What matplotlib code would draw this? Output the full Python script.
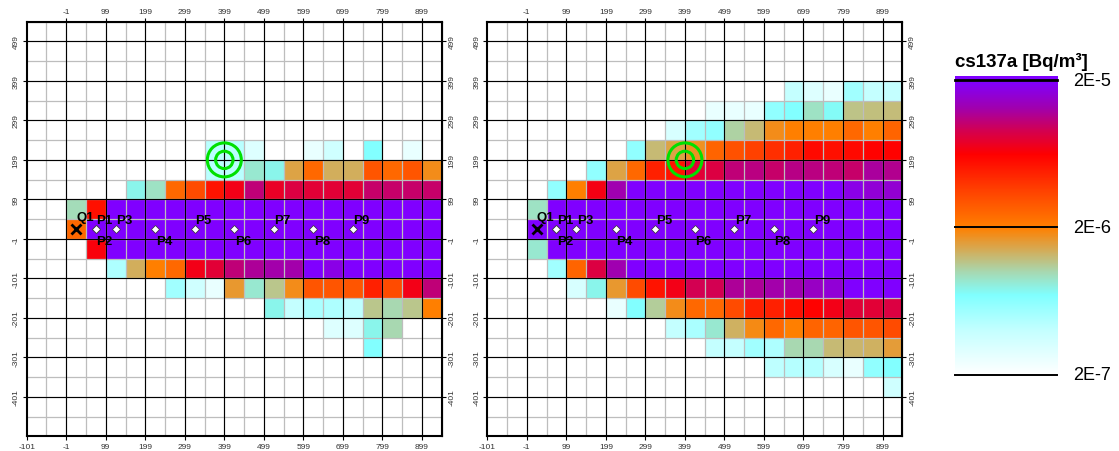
import matplotlib.pyplot as plt
import numpy as np
from matplotlib.colors import LinearSegmentedColormap, LogNorm
from matplotlib.patches import Circle

plt.rcParams['font.family'] = ['Liberation Sans', 'DejaVu Sans']
plt.rcParams['axes.unicode_minus'] = False

# concentrations in units of 1E-7 Bq/m3, 50 m cells, columns start at x=-101
P = 250  # above the top class
x_edge0, y_edge0, cell, ncell = -101, -501, 50, 21
row_bottoms = [349, 299, 249, 199, 149, 99, 49, -1, -51, -101, -151, -201, -251, -301, -351, -401]

conc_left = [
    [0] * 21,
    [0] * 21,
    [0] * 21,
    [0, 0, 0, 0, 0, 0, 0, 0, 0, 4.4, 4.4, 3.0, 0, 0, 2.6, 3.5, 0, 6.9, 0, 2.6, 0],
    [0, 0, 0, 0, 0, 0, 0, 0, 0, 4.4, 4.4, 8.7, 7.6, 15, 25, 13.8, 13.8, 30, 25, 30, 18],
    [0, 0, 0, 0, 0, 7.6, 9.1, 25, 33, 53, 70, 105, 75, 85, 80, 80, 80, 100, 100, 100, 100],
    [0, 0, 9.7, 55] + [P] * 17,
    [0, 0, 25] + [P] * 18,
    [0, 0, 0, 66] + [P] * 17,
    [0, 0, 0, 0, 4.8, 13.8, 20, 25, 70, 80, 105, 120, 128, 128, P, 175, P, P, P, P, P],
    [0, 0, 0, 0, 0, 0, 0, 5.3, 3.5, 2.6, 16.6, 8.7, 11.5, 18, 30, 30, 30, 48, 33, 70, 105],
    [0] * 12 + [7.6, 4.0, 5.0, 4.8, 4.2, 11.5, 10, 11.5, 20],
    [0] * 15 + [3.0, 3.0, 7.6, 10, 0, 0],
    [0] * 17 + [6.9, 0, 0, 0],
    [0] * 21,
    [0] * 21,
]

conc_right = [
    [0] * 15 + [4.0, 3.0, 2.6, 5.3, 4.0, 4.0],
    [0] * 11 + [2.6, 2.6, 2.6, 6.0, 6.9, 9.1, 7.2, 11.8, 12.2, 12.5],
    [0] * 9 + [3.2, 5.3, 6.0, 10.5, 12.6, 18, 20, 20, 20, 25, 20, 26],
    [0] * 7 + [6.0, 12.6, 15.2, 17.5, 26, 31, 36, 42, 48, 58, 55, 58, 63, 63],
    [0] * 5 + [6.0, 15.2, 25, 48, 53, 80, 85, 105, 110, 100, 112, 110, 105, 100, 122, 115],
    [0, 0, 0, 6.0, 20, 68, 130] + [P] * 11 + [175, 160, 158],
    [0, 0, 9.1] + [P] * 18,
    [0, 0] + [P] * 19,
    [0, 0, 8.7] + [P] * 18,
    [0, 0, 0, 5.3, 26, 85, 130] + [P] * 14,
    [0, 0, 0, 0, 3.2, 7.6, 16.6, 33, 53, 70, 92, 92, 120, 120, 128, 132, 145, 160, P, P, P],
    [0] * 6 + [2.6, 6.9, 11, 18, 25, 25, 33, 48, 48, 55, 63, 70, 80, 80, 85],
    [0] * 9 + [4.0, 5.0, 8.7, 13.5, 18.5, 25, 20, 26, 26, 30, 30, 33],
    [0] * 11 + [4.0, 4.0, 5.3, 4.8, 10, 10, 12.6, 13, 13.5, 16],
    [0] * 14 + [4.2, 4.5, 4.5, 3.2, 2.6, 6.0, 6.9],
    [0] * 20 + [3.5],
]

source_name = 'Q1'
source_xy = (24, 24)
monitor_names = ['P1', 'P2', 'P3', 'P4', 'P5', 'P6', 'P7', 'P8', 'P9']
monitor_x = [74, 74, 124, 224, 324, 424, 524, 624, 724]
monitor_y = [24, 24, 24, 24, 24, 24, 24, 24, 24]
target_xy = (399, 199)

major_ticks = list(range(-101, 900, 100))
y_major = list(range(-401, 500, 100))
cbar_levels = [2e-5, 2e-6, 2e-7]
cbar_labels = ['2E-5', '2E-6', '2E-7']

cmap = LinearSegmentedColormap.from_list('cs137', [
    (0.0, '#ffffff'), (0.15, '#c4ffff'), (0.27, '#80ffff'), (0.35, '#a8d8b0'),
    (0.43, '#d8a850'), (0.5, '#ff8000'), (0.63, '#ff4000'), (0.75, '#ff0000'),
    (0.83, '#d40050'), (0.91, '#a000b0'), (1.0, '#8000ff')])
cmap.set_over('#8000ff')
norm = LogNorm(vmin=2e-7, vmax=2e-5)

W, H = 1119, 452
fig = plt.figure(figsize=(W / 100, H / 100), dpi=100)


def grid_array(rows):
    z = np.full((ncell, ncell), np.nan)
    for rb, vals in zip(row_bottoms, rows):
        j = (rb - y_edge0) // cell
        v = np.array(vals, dtype=float)
        z[j] = np.where(v > 0, v * 1e-7, np.nan)
    return np.ma.masked_invalid(z)


def draw_panel(left_px, rows):
    ax = fig.add_axes([left_px / W, (H - 437.3) / H, 415 / W, 414.6 / H])
    xe = x_edge0 + cell * np.arange(ncell + 1)
    ye = y_edge0 + cell * np.arange(ncell + 1)
    lo, hi = xe[0], xe[-1]
    ax.pcolormesh(xe, ye, grid_array(rows), cmap=cmap, norm=norm, zorder=1)
    # cell borders, then the 100 m lines
    for v in xe[1:-1]:
        ax.plot([v, v], [ye[0], ye[-1]], color='#bdbdbd', lw=0.9, zorder=2)
    for v in ye[1:-1]:
        ax.plot([lo, hi], [v, v], color='#bdbdbd', lw=0.9, zorder=2)
    for v in major_ticks[1:]:
        ax.plot([v, v], [ye[0], ye[-1]], color='black', lw=0.8, zorder=3)
    for v in y_major:
        ax.plot([lo, hi], [v, v], color='black', lw=0.8, zorder=3)

    ax.set_xlim(lo, hi)
    ax.set_ylim(ye[0], ye[-1])
    for s in ax.spines.values():
        s.set_linewidth(1.5)
        s.set_zorder(5)

    ax.set_xticks(major_ticks)
    ax.set_yticks(y_major)
    ax.tick_params(length=3, width=0.8, labelsize=6, labelcolor='#333333', pad=2)
    for lab in ax.get_yticklabels():
        lab.set_rotation(90)
        lab.set_va('center')
    top = ax.secondary_xaxis('top')
    top.set_xticks(major_ticks[1:])
    top.tick_params(length=3, width=0.8, labelsize=6, labelcolor='#333333', pad=2)
    right = ax.secondary_yaxis('right')
    right.set_yticks(y_major)
    right.tick_params(length=3, width=0.8, labelsize=6, labelcolor='#333333', pad=2)
    for lab in right.get_yticklabels():
        lab.set_rotation(90)
        lab.set_va('center')

    # source and receptor points
    ax.plot(*source_xy, marker='x', ms=7, mew=2, color='black', zorder=6)
    ax.annotate(source_name, source_xy, xytext=(0, 6.5), textcoords='offset points',
                ha='left', va='baseline', fontsize=9.5, fontweight='bold', zorder=7)
    ax.plot(monitor_x, monitor_y, ls='none', marker='D', ms=4.5, mfc='white',
            mec='#333333', mew=0.5, zorder=6)
    for k, (name, mx, my) in enumerate(zip(monitor_names, monitor_x, monitor_y)):
        if k % 2 == 0:
            ax.annotate(name, (mx, my), xytext=(0.5, 4.5), textcoords='offset points',
                        ha='left', va='baseline', fontsize=9.5, fontweight='bold', zorder=7)
        else:
            ax.annotate(name, (mx, my), xytext=(0.5, -4.5), textcoords='offset points',
                        ha='left', va='top', fontsize=9.5, fontweight='bold', zorder=7)
    for r in (43, 22):
        ax.add_patch(Circle(target_xy, r, fill=False, ec='#00e000', lw=2.2, zorder=6))
    return ax


draw_panel(26.7, conc_left)
draw_panel(487.3, conc_right)

# colour scale
lo_log = np.log10(2e-7)
top_log = np.log10(2e-5) + 0.03
cax = fig.add_axes([955 / W, (H - 375.7) / H, 102 / W, 299 / H])
levels = np.linspace(lo_log, top_log, 600)
cax.imshow((10 ** levels)[:, None], cmap=cmap, norm=norm, origin='lower',
           extent=[0, 1, lo_log, top_log], aspect='auto')
cax.set_xlim(0, 1)
cax.set_ylim(lo_log, top_log)
cax.axis('off')
for lev, lab, lw in zip(cbar_levels, cbar_labels, [2.0, 1.4, 1.4]):
    y = np.log10(lev)
    cax.plot([0, 1], [y, y], color='black', lw=lw, clip_on=False)
    cax.text(1.16, y, lab, transform=cax.get_yaxis_transform(), ha='left',
             va='center', fontsize=13)
fig.text(955 / W, 1 - 67 / H, 'cs137a [Bq/m³]', ha='left', va='baseline',
         fontsize=13.5, fontweight='bold')

fig.savefig('out.png', dpi=100)
